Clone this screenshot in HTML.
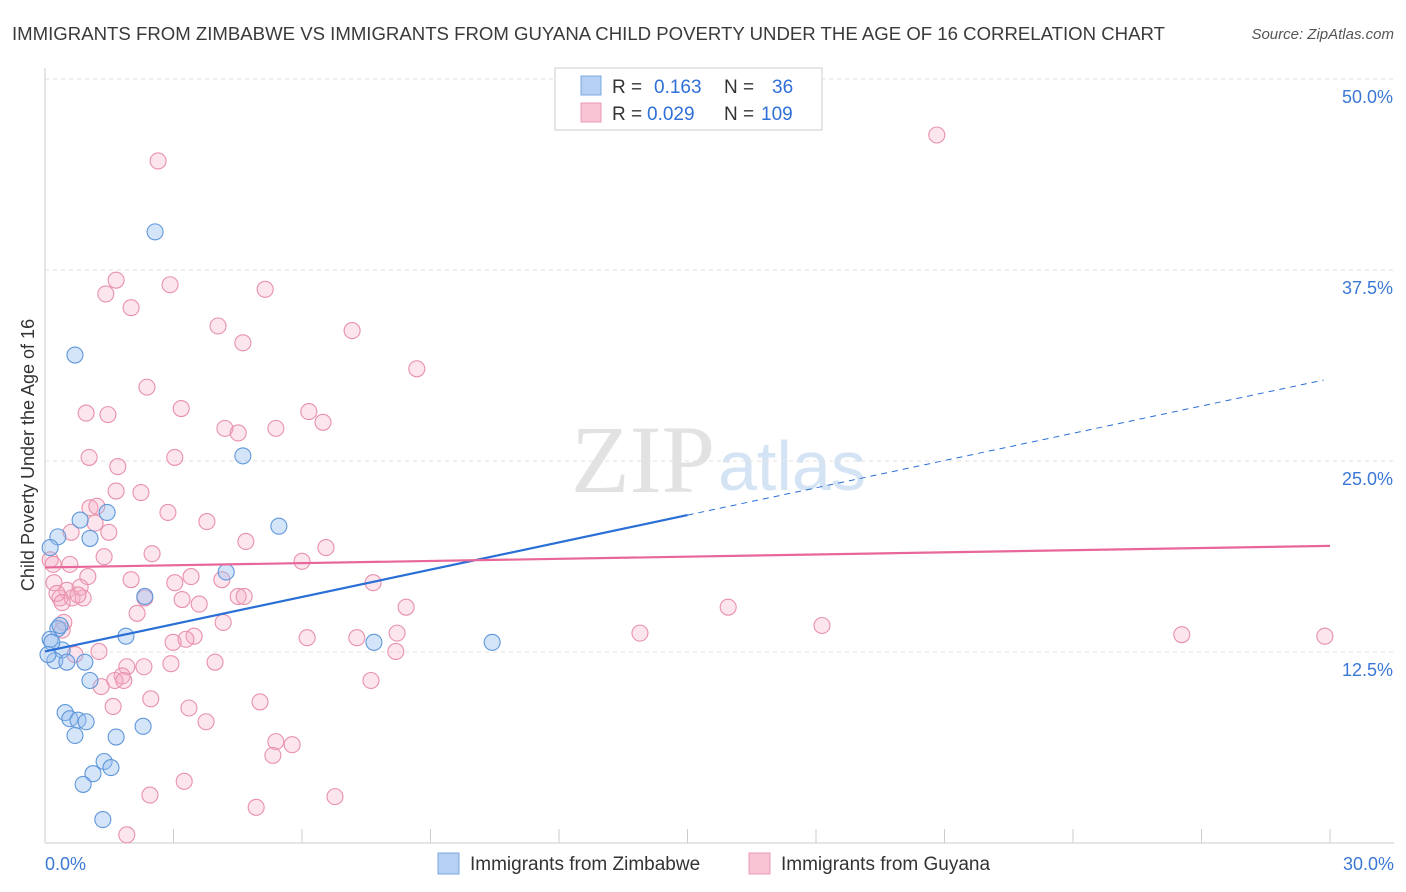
<!DOCTYPE html>
<html><head><meta charset="utf-8"><style>
body{margin:0;background:#fff;font-family:"Liberation Sans",sans-serif;}
svg{display:block}
text{font-family:"Liberation Sans",sans-serif}
</style></head><body>
<svg id="chart" width="1406" height="892">
<text x="12" y="40" font-size="18.6" fill="#3a3a3a">IMMIGRANTS FROM ZIMBABWE VS IMMIGRANTS FROM GUYANA CHILD POVERTY UNDER THE AGE OF 16 CORRELATION CHART</text>
<text x="1394" y="39" font-size="15" fill="#555" font-style="italic" text-anchor="end">Source: ZipAtlas.com</text>
<text x="715" y="492" font-size="96" fill="#e2e2e2" text-anchor="end" style="font-family:'Liberation Serif',serif">ZIP</text>
<text x="718" y="490" font-size="70" fill="#d5e4f5">atlas</text>
<g id="grid"></g><g id="axes"></g><g id="pts"></g><g id="trend"></g>
<text transform="translate(34,455) rotate(-90)" font-size="18" fill="#333" text-anchor="middle">Child Poverty Under the Age of 16</text>
<g>
<rect x="555" y="68" width="267" height="62" fill="#fff" stroke="#ccc"/>
<rect x="581" y="76" width="20" height="19" fill="#b5d0f3" stroke="#7aa8e0"/>
<rect x="581" y="103" width="20" height="19" fill="#f8c3d2" stroke="#e99bb3"/>
<text x="612" y="93" font-size="19" fill="#333">R =</text><text x="654" y="93" font-size="19" fill="#2f6fd8">0.163</text>
<text x="724" y="93" font-size="19" fill="#333">N =</text><text x="772" y="93" font-size="19" fill="#2f6fd8">36</text>
<text x="612" y="120" font-size="19" fill="#333">R =</text><text x="647" y="120" font-size="19" fill="#2f6fd8">0.029</text>
<text x="724" y="120" font-size="19" fill="#333">N =</text><text x="761" y="120" font-size="19" fill="#2f6fd8">109</text>
</g>
<g>
<rect x="438" y="853" width="21" height="21" fill="#b5d0f3" stroke="#7aa8e0"/>
<text x="470" y="870" font-size="19" fill="#333">Immigrants from Zimbabwe</text>
<rect x="749" y="853" width="21" height="21" fill="#f8c3d2" stroke="#e99bb3"/>
<text x="781" y="870" font-size="19" fill="#333">Immigrants from Guyana</text>
</g>
</svg>
<script>
const yTicks=[12.5,25,37.5,50];
const yTickLabels=["12.5%","25.0%","37.5%","50.0%"];
const xLabels=["0.0%","30.0%"];
const blueX=[2.57,0.70,4.62,5.46,0.82,1.45,0.30,1.05,0.12,4.23,2.33,1.89,0.30,0.40,0.12,0.23,0.51,0.93,1.05,0.47,0.58,0.77,0.96,0.70,1.66,2.29,1.38,1.54,1.12,0.89,1.35,7.68,10.44,0.35,0.16,0.07];
const blueY=[40.06,32.0,25.4,20.8,21.2,21.7,20.1,20.0,19.4,17.8,16.2,13.6,14.1,12.7,13.4,12.0,11.9,11.9,10.7,8.6,8.2,8.1,8.0,7.1,7.0,7.7,5.4,5.0,4.6,3.9,1.6,13.2,13.2,14.3,13.2,12.4];
const pinkX=[20.82,2.64,1.66,2.92,5.14,1.42,2.01,4.04,7.17,4.62,8.68,2.38,0.96,1.47,3.18,6.16,6.49,4.20,4.51,5.39,1.03,3.03,1.70,1.66,2.24,1.05,1.21,2.87,1.17,3.78,0.61,1.49,4.69,6.56,2.50,1.38,6.00,0.12,0.19,0.58,3.41,1.00,2.01,7.66,0.21,3.03,4.13,0.82,0.51,0.35,0.63,0.89,0.28,0.40,0.77,2.33,3.20,4.51,4.65,3.60,8.43,15.95,2.15,0.44,0.40,4.16,18.14,13.89,26.54,29.88,3.48,3.29,2.99,6.12,7.28,8.22,8.19,0.70,1.26,1.91,2.94,3.97,2.31,1.80,1.63,1.84,1.31,7.61,2.47,5.02,1.59,3.36,3.76,5.39,5.77,5.32,3.25,2.45,6.77,4.93,1.91];
const pinkY=[46.4,44.7,36.9,36.6,36.3,36.0,35.1,33.9,33.6,32.8,31.1,29.9,28.2,28.1,28.5,28.3,27.6,27.2,26.9,27.2,25.3,25.3,24.7,23.1,23.0,22.0,22.1,21.7,21.0,21.1,20.4,20.4,19.8,19.4,19.0,18.8,18.5,18.6,18.3,18.3,17.5,17.5,17.3,17.1,17.1,17.1,17.3,16.8,16.6,16.1,16.1,16.1,16.4,15.8,16.3,16.1,16.0,16.2,16.2,15.7,15.5,15.5,15.1,14.5,14.0,14.5,14.3,13.8,13.7,13.6,13.6,13.4,13.2,13.5,13.5,13.8,12.6,12.4,12.6,11.6,11.8,11.9,11.6,11.0,10.7,10.7,10.3,10.7,9.5,9.3,9.0,8.9,8.0,6.7,6.5,5.8,4.1,3.2,3.1,2.4,0.6];
const blueTrend=[12.6,0.595];
const pinkTrend=[18.1,0.047];
const NS="http://www.w3.org/2000/svg";
const X=v=>45+v/30*1285, Y=v=>844-v/12.5*191;
function mk(tag,attrs,parent){const e=document.createElementNS(NS,tag);for(const k in attrs)e.setAttribute(k,attrs[k]);parent.appendChild(e);return e;}
const grid=document.getElementById('grid'),axes=document.getElementById('axes'),pts=document.getElementById('pts'),tr=document.getElementById('trend');
yTicks.forEach((t,i)=>{
 const l=mk('line',{x1:45,x2:1394,y1:Y(t)-1,y2:Y(t)-1,stroke:'#e2e2e2','stroke-dasharray':'4,4'},grid);
 
 
 const tx=mk('text',{x:1393,y:Y(t)+23,'font-size':18,fill:'#3b78d6','text-anchor':'end'},axes);
 tx.textContent=yTickLabels[i];
 
 
});
const al=mk('line',{x1:45,x2:45,y1:68,y2:843,stroke:'#ccc'},axes);


const bl=mk('line',{x1:45,x2:1394,y1:843,y2:843,stroke:'#ccc'},axes);


for(let i=0;i<=10;i++){const t=mk('line',{x1:X(i*3),x2:X(i*3),y1:829,y2:843,stroke:'#ccc'},axes);
 
 }
const xl0=mk('text',{x:45,y:870,'font-size':18,fill:'#3b78d6'},axes);xl0.textContent=xLabels[0];


const xl1=mk('text',{x:1394,y:870,'font-size':18,fill:'#3b78d6','text-anchor':'end'},axes);xl1.textContent=xLabels[1];


pinkX.forEach((x,i)=>{const c=mk('circle',{cx:X(x),cy:Y(pinkY[i]),r:8,fill:'rgba(245,170,195,0.3)',stroke:'#e891ab','stroke-width':1.1},pts);
 
 });
blueX.forEach((x,i)=>{const c=mk('circle',{cx:X(x),cy:Y(blueY[i]),r:8,fill:'rgba(150,190,240,0.4)',stroke:'#5f97da','stroke-width':1.1},pts);
 
 });
const bf=x=>blueTrend[0]+blueTrend[1]*x, pf=x=>pinkTrend[0]+pinkTrend[1]*x;
const b1=mk('line',{x1:X(0),y1:Y(bf(0)),x2:X(15),y2:Y(bf(15)),stroke:'#2a6fd6','stroke-width':2.2},tr);


const b2=mk('line',{x1:X(15),y1:Y(bf(15)),x2:X(29.85),y2:Y(bf(29.85)),stroke:'#2a6fd6','stroke-width':1,'stroke-dasharray':'6,5'},tr);


const p1=mk('line',{x1:X(0),y1:Y(pf(0)),x2:X(30),y2:Y(pf(30)),stroke:'#e8679a','stroke-width':2.2},tr);


</script>
</body></html>
